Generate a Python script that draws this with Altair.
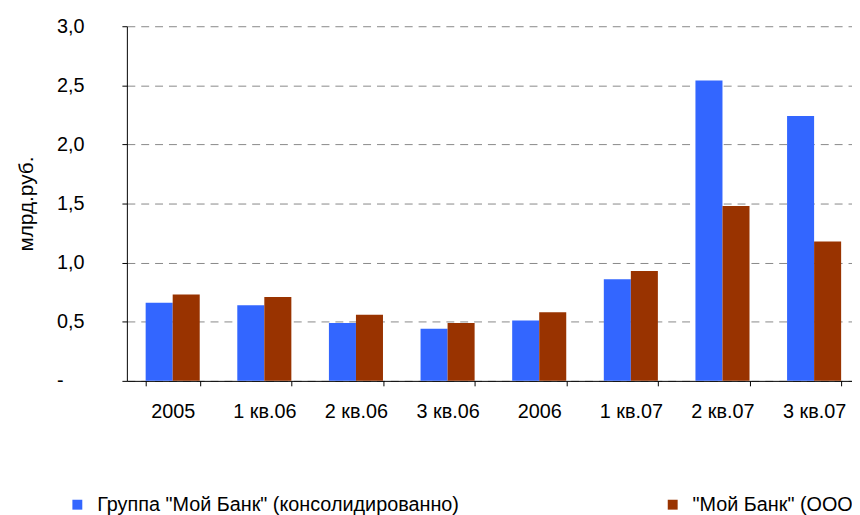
import altair as alt
import pandas as pd

categories = ["2005", "1 кв.06", "2 кв.06", "3 кв.06", "2006", "1 кв.07", "2 кв.07", "3 кв.07"]
group_values = [0.66, 0.64, 0.49, 0.44, 0.51, 0.86, 2.54, 2.24]
bank_values = [0.73, 0.71, 0.56, 0.49, 0.58, 0.93, 1.48, 1.18]
series_names = ['Группа "Мой Банк" (консолидированно)', '"Мой Банк" (ООО)']
series_colors = ["#3366FF", "#993300"]
y_ticks = [0, 0.5, 1.0, 1.5, 2.0, 2.5, 3.0]

rows = []
for c, g, b in zip(categories, group_values, bank_values):
    rows.append({"cat": c, "series": series_names[0], "value": g})
    rows.append({"cat": c, "series": series_names[1], "value": b})
df = pd.DataFrame(rows)

FONT = "Liberation Sans"

chart = alt.Chart(df).mark_bar().encode(
    x=alt.X(
        "cat:N",
        sort=categories,
        scale=alt.Scale(paddingInner=0.41, paddingOuter=0.205),
        axis=alt.Axis(
            title=None, labelAngle=0, tickBand="extent", labelFontSize=20,
            labelPadding=16, tickSize=5, domainColor="black", tickColor="black",
            labelColor="black", labelFont=FONT, grid=False,
        ),
    ),
    xOffset=alt.XOffset("series:N", sort=series_names,
                        scale=alt.Scale(paddingInner=0, paddingOuter=0)),
    y=alt.Y(
        "value:Q",
        scale=alt.Scale(domain=[0, 3], nice=False),
        axis=alt.Axis(
            values=y_ticks,
            labelExpr="datum.value == 0 ? '-' : replace(format(datum.value, '.1f'), '.', ',')",
            grid=True, gridDash=[8, 6], gridColor="#888888", gridWidth=1,
            title="млрд.руб.", titleFontSize=21, titleFont=FONT, titleFontWeight="normal",
            titleColor="black", titleX=-101, titleY=179, titleAngle=-90,
            titleAlign="center", titleBaseline="middle",
            labelFontSize=20, labelFont=FONT, labelColor="black", labelPadding=66,
            labelAlign="left",
            tickSize=5, tickColor="black", domainColor="black",
        ),
    ),
    color=alt.Color(
        "series:N",
        sort=series_names,
        scale=alt.Scale(domain=series_names, range=series_colors),
        legend=alt.Legend(
            orient="none", legendX=-60, legendY=473, direction="horizontal",
            columns=2, columnPadding=205, title=None, symbolType="square",
            symbolSize=100, symbolStrokeWidth=0, labelFontSize=20, labelFont=FONT,
            labelColor="black", labelOffset=10, labelLimit=600,
        ),
    ),
).properties(
    width=740,
    height=358,
    padding={"left": 120, "top": 16, "right": -8, "bottom": 133},
    autosize=alt.AutoSizeParams(type="none"),
).configure_view(stroke=None)

chart.save("out.html", embed_options={"renderer": "svg", "actions": False})
